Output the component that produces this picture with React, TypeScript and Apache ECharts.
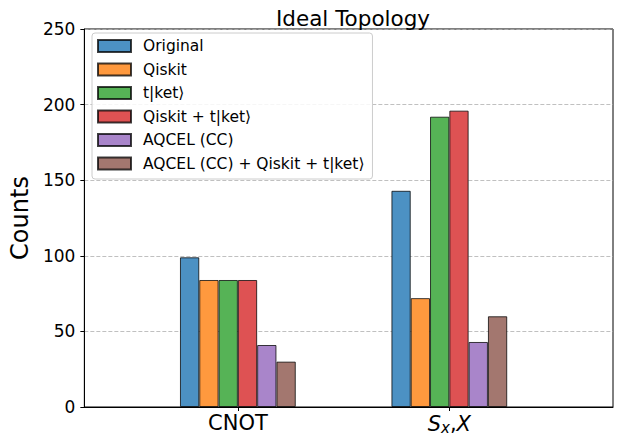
import React, { useEffect, useRef } from "react";
import * as echarts from "echarts";

const categories = ["CNOT", "S_x,X"];
const seriesNames = [
  "Original",
  "Qiskit",
  "t|ket⟩",
  "Qiskit + t|ket⟩",
  "AQCEL (CC)",
  "AQCEL (CC) + Qiskit + t|ket⟩",
];
const original = [99, 143];
const qiskit = [84, 72];
const tket = [84, 192];
const qiskitTket = [84, 196];
const aqcel = [41, 43];
const aqcelAll = [30, 60];
const seriesValues = [original, qiskit, tket, qiskitTket, aqcel, aqcelAll];
const colors = ["#4c91c3", "#ff993e", "#56b356", "#de5253", "#a985ca", "#a3776f"];
const yTicks = [0, 50, 100, 150, 200, 250];

const FONT = "DejaVu Sans";

export default function App() {
  const ref = useRef<HTMLDivElement>(null);
  useEffect(() => {
    if (!ref.current) return;
    const chart = echarts.init(ref.current, null, { renderer: "svg" });
    chart.setOption({
      animation: false,
      textStyle: { fontFamily: FONT },
      title: {
        text: "Ideal Topology",
        left: 348,
        textAlign: "center",
        top: 2,
        textStyle: { fontFamily: FONT, fontSize: 21.5, fontWeight: "normal", color: "#000" },
      },
      grid: {
        left: 83,
        right: 7,
        top: 29,
        bottom: 30,
        show: true,
        borderColor: "#000",
        borderWidth: 1,
        backgroundColor: "transparent",
      },
      legend: {
        orient: "vertical",
        left: 92,
        top: 33,
        padding: [5, 8, 7.5, 5],
        itemWidth: 33,
        itemHeight: 12,
        itemGap: 7.5,
        icon: "rect",
        backgroundColor: "rgba(255,255,255,0.85)",
        borderColor: "#cccccc",
        borderWidth: 1,
        borderRadius: 3,
        textStyle: { fontFamily: FONT, fontSize: 15.5, color: "#000", lineHeight: 16, padding: [0, 0, 0, 7] },
        data: seriesNames,
      },
      xAxis: {
        type: "value",
        min: -0.726,
        max: 1.774,
        splitLine: { show: false },
        axisLine: { show: true, onZero: false, lineStyle: { color: "#000" } },
        axisTick: { show: true, customValues: [0, 1], length: 4, lineStyle: { color: "#000" } },
        axisLabel: {
          customValues: [0, 1],
          margin: 5,
          color: "#000",
          fontSize: 21,
          fontFamily: FONT,
          formatter: (v: number) => (v === 0 ? categories[0] : "{i|S}{sub|x}{n|,}{i|X}"),
          rich: {
            i: { fontStyle: "italic", fontSize: 21, fontFamily: FONT, color: "#000" },
            sub: { fontStyle: "italic", fontSize: 15, fontFamily: FONT, color: "#000", padding: [8, 0, 0, 0] },
            n: { fontSize: 21, fontFamily: FONT, color: "#000" },
          },
        },
      },
      yAxis: {
        type: "value",
        min: 0,
        max: 250,
        interval: 50,
        name: "Counts",
        nameLocation: "middle",
        nameGap: 50,
        nameTextStyle: { fontFamily: FONT, fontSize: 24, color: "#000" },
        axisLine: { show: true, onZero: false, lineStyle: { color: "#000" } },
        axisTick: { show: true, length: 4, lineStyle: { color: "#000" } },
        axisLabel: {
          color: "#000",
          fontSize: 17,
          fontFamily: FONT,
          margin: 9,
          formatter: (v: number) => (yTicks.includes(v) ? String(v) : ""),
        },
        splitLine: { show: true, lineStyle: { color: "#b0b0b0", type: [4, 2], width: 0.8 } },
      },
      series: seriesNames.map((name, si) => ({
        name,
        type: "bar",
        barWidth: 19.3,
        barGap: "0%",
        itemStyle: { color: colors[si], borderColor: "rgba(0,0,0,0.75)", borderWidth: 1 },
        data: seriesValues[si].map((v, ci) => [ci, v]),
      })),
    });
    return () => chart.dispose();
  }, []);
  return <div ref={ref} style={{ width: 620, height: 437, position: "absolute", left: 0, top: 0, background: "#fff" }} />;
}
